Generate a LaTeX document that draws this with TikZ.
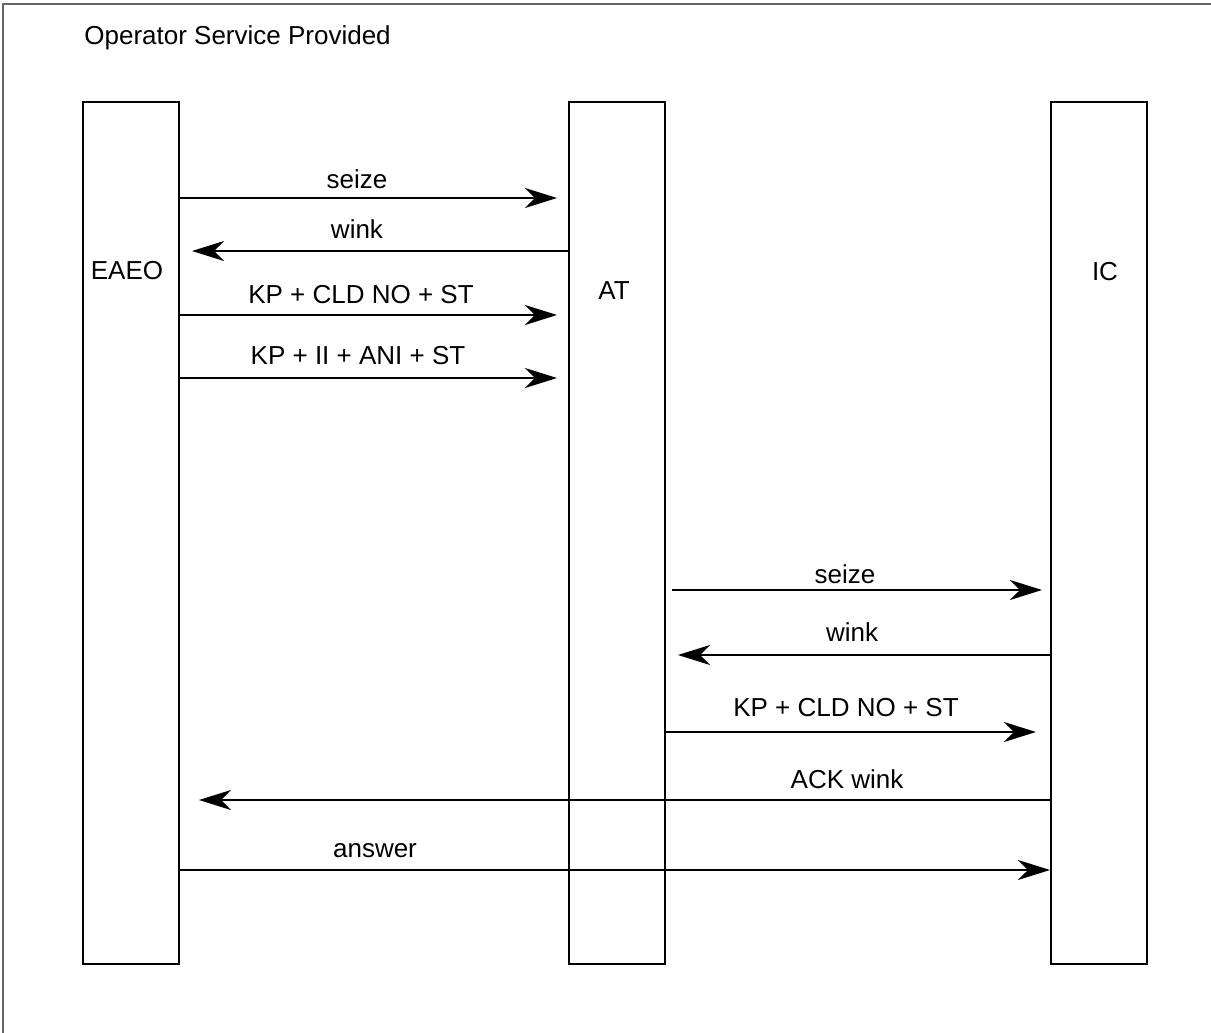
\documentclass[tikz,border=0pt]{standalone}
\usepackage{fontspec}
\setmainfont{Liberation Sans}
\usetikzlibrary{arrows.meta}
\begin{document}
\begin{tikzpicture}[x=0.5pt,y=-0.5pt,
  lifeline/.style={draw,line width=1pt,minimum width=48pt,minimum height=431pt,inner sep=0pt,anchor=north west},
  msg/.style={line width=1pt,-{Stealth[length=16pt,width=10pt,inset=5pt]}},
  lbl/.style={font=\fontsize{13}{15}\selectfont,inner sep=0pt},
  frame/.style={draw=black!60,line width=0.6pt}]
\useasboundingbox (0,0) rectangle (1211,1033);
\draw[frame] (3,1033) -- (3,4) -- (1211,4);
\node[lbl,anchor=west] (title) at (84,38) {Operator Service Provided};
\node[lifeline] (eaeo) at (82,101) {};
\node[lifeline] (at) at (568,101) {};
\node[lifeline] (ic) at (1050,101) {};
\node[lbl] (leaeo) at (127,271) {EAEO};
\node[lbl] (lat) at (614,291) {AT};
\node[lbl] (lic) at (1105,272) {IC};
% messages
\draw[msg,shorten >=5.5pt] (eaeo.east |- 0,198) -- (at.west |- 0,198);
\node[lbl] (m1) at (357,179) {seize};
\draw[msg,shorten >=6pt] (at.west |- 0,251) -- (eaeo.east |- 0,251);
\node[lbl] (m2) at (357,229) {wink};
\draw[msg,shorten >=5.5pt] (eaeo.east |- 0,315) -- (at.west |- 0,315);
\node[lbl] (m3) at (361,295) {KP + CLD NO + ST};
\draw[msg,shorten >=5.5pt] (eaeo.east |- 0,378) -- (at.west |- 0,378);
\node[lbl] (m4) at (358,356) {KP + II + ANI + ST};
\draw[msg,shorten <=3pt,shorten >=4pt] (at.east |- 0,590) -- (ic.west |- 0,590);
\node[lbl] (m5) at (845,574) {seize};
\draw[msg,shorten >=6pt] (ic.west |- 0,655) -- (at.east |- 0,655);
\node[lbl] (m6) at (852,632) {wink};
\draw[msg,shorten >=7pt] (at.east |- 0,732) -- (ic.west |- 0,732);
\node[lbl] (m7) at (846,708) {KP + CLD NO + ST};
\draw[msg,shorten >=9.5pt] (ic.west |- 0,800) -- (eaeo.east |- 0,800);
\node[lbl] (m8) at (847,779) {ACK wink};
\draw[msg] (eaeo.east |- 0,870) -- (ic.west |- 0,870);
\node[lbl] (m9) at (375,851) {answer};
\end{tikzpicture}
\end{document}
